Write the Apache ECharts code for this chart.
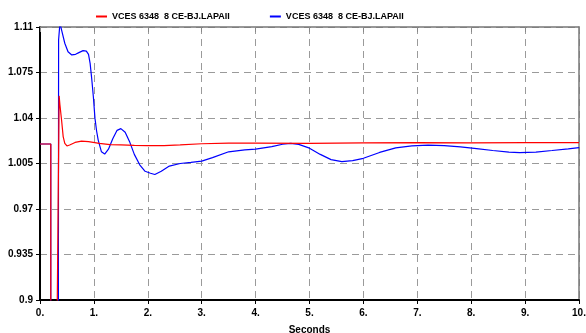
<!DOCTYPE html>
<html>
<head>
<meta charset="utf-8">
<script src="https://cdn.jsdelivr.net/npm/echarts@6/dist/echarts.min.js"></script>
<style>
  html, body { margin: 0; padding: 0; background: #fff; }
  #chart { width: 586px; height: 333px; }
</style>
</head>
<body>
<div id="chart"></div>
<script>
// Bus voltage (p.u.) against time (s) for two runs
const seriesNames = ['VCES 6348  8 CE-BJ.LAPAII', 'VCES 6348  8 CE-BJ.LAPAII'];

const redT = [0, 0.2, 0.2, 0.31, 0.355, 0.37, 0.4, 0.43, 0.46, 0.5, 0.55, 0.65, 0.77, 0.9, 1.1, 1.3, 1.5, 1.75, 2.0, 2.3, 2.6, 3.0, 3.5, 4.0, 5.0, 6.0, 7.0, 8.0, 9.0, 10.0];
const redV = [1.02, 1.02, 0.85, 0.85, 1.057, 1.05, 1.0385, 1.0257, 1.0205, 1.0185, 1.0192, 1.0212, 1.0222, 1.0218, 1.0205, 1.0195, 1.0193, 1.019, 1.0188, 1.0188, 1.0193, 1.0202, 1.0206, 1.0207, 1.0205, 1.0208, 1.021, 1.0208, 1.021, 1.021];

const blueT = [0, 0.2, 0.2, 0.34, 0.345, 0.37, 0.41, 0.46, 0.52, 0.59, 0.66, 0.73, 0.8, 0.86, 0.9, 0.93, 0.96, 0.99, 1.02, 1.05, 1.08, 1.14, 1.2, 1.27, 1.35, 1.43, 1.5, 1.58, 1.66, 1.75, 1.85, 1.95, 2.05, 2.13, 2.25, 2.4, 2.6, 2.8, 3.0, 3.2, 3.5, 3.8, 4.0, 4.3, 4.5, 4.65, 4.8, 5.0, 5.2, 5.4, 5.6, 5.8, 6.0, 6.3, 6.6, 6.9, 7.2, 7.5, 7.8, 8.1, 8.4, 8.7, 8.9, 9.2, 9.5, 9.8, 10];
const blueV = [1.02, 1.02, 0.85, 0.85, 1.10, 1.113, 1.106, 1.0975, 1.091, 1.0885, 1.089, 1.0905, 1.0918, 1.0915, 1.089, 1.082, 1.07, 1.0564, 1.0397, 1.03, 1.023, 1.014, 1.0123, 1.016, 1.024, 1.0305, 1.0318, 1.029, 1.022, 1.012, 1.004, 0.999, 0.9975, 0.9965, 0.999, 1.003, 1.005, 1.0058, 1.0068, 1.0095, 1.014, 1.0155, 1.016, 1.018, 1.0198, 1.0205, 1.0197, 1.0168, 1.012, 1.008, 1.0065, 1.0072, 1.009, 1.0135, 1.017, 1.0185, 1.0192, 1.0188, 1.0178, 1.0165, 1.015, 1.0137, 1.0133, 1.0138, 1.015, 1.0163, 1.0172];

const yMin = 0.9, yMax = 1.11, yStep = 0.035;
const xMin = 0, xMax = 10, xStep = 1;
const xTitle = 'Seconds';

const pairs = (t, v) => t.map((x, i) => [x, v[i]]);
const FONT = '"Liberation Sans", Arial, sans-serif';

const chart = echarts.init(document.getElementById('chart'), null, { renderer: 'canvas' });
chart.setOption({
  animation: false,
  backgroundColor: '#ffffff',
  textStyle: { fontFamily: FONT },
  legend: {
    left: 91,
    top: 7,
    itemGap: 40,
    itemWidth: 11,
    itemHeight: 2,
    icon: 'rect',
    textStyle: { fontFamily: FONT, fontSize: 9, fontWeight: 'bold', color: '#000' },
    data: [
      { name: 'red', itemStyle: { color: '#ff0000' } },
      { name: 'blue', itemStyle: { color: '#0000ff' } }
    ],
    formatter: n => n === 'red' ? seriesNames[0] : seriesNames[1]
  },
  grid: { left: 40, right: 7, top: 27, bottom: 33, containLabel: false, outerBoundsMode: 'none' },
  xAxis: [
    {
      type: 'value', position: 'bottom', min: xMin, max: xMax, interval: xStep,
      name: xTitle, nameLocation: 'middle', nameGap: 25,
      nameTextStyle: { fontFamily: FONT, fontSize: 10, fontWeight: 'bold', color: '#000' },
      axisLine: { show: true, onZero: false, lineStyle: { color: '#000', width: 2 } },
      axisTick: { show: true, inside: false, length: 4, lineStyle: { color: '#000', width: 1 } },
      axisLabel: { margin: 8, fontFamily: FONT, fontSize: 10, fontWeight: 'bold', color: '#000',
        formatter: v => v + '.' },
      splitLine: { show: true, lineStyle: { color: '#9a9a9a', width: 1, type: [7, 5] } }
    },
    {
      type: 'value', position: 'top', min: xMin, max: xMax, interval: xStep,
      axisLine: { show: true, onZero: false, lineStyle: { color: '#777', width: 1.5 } },
      axisTick: { show: true, inside: true, length: 5, lineStyle: { color: '#888', width: 1 } },
      axisLabel: { show: false },
      splitLine: { show: false }
    }
  ],
  yAxis: [
    {
      type: 'value', position: 'left', min: yMin, max: yMax, interval: yStep,
      axisLine: { show: true, onZero: false, lineStyle: { color: '#000', width: 2 } },
      axisTick: { show: true, inside: false, length: 4, lineStyle: { color: '#000', width: 1 } },
      axisLabel: { margin: 7, fontFamily: FONT, fontSize: 10, fontWeight: 'bold', color: '#000',
        formatter: v => String(parseFloat(v.toFixed(3))) },
      splitLine: { show: true, lineStyle: { color: '#9a9a9a', width: 1, type: [7, 5] } }
    },
    {
      type: 'value', position: 'right', min: yMin, max: yMax, interval: yStep,
      axisLine: { show: true, onZero: false, lineStyle: { color: '#777', width: 1.5 } },
      axisTick: { show: false },
      axisLabel: { show: false },
      splitLine: { show: false }
    }
  ],
  series: [
    {
      name: 'blue', type: 'line', xAxisIndex: 0, yAxisIndex: 0,
      data: pairs(blueT, blueV), showSymbol: false, symbol: 'none', smooth: false, clip: true,
      z: 2, lineStyle: { color: '#0000ff', width: 1.2 }, itemStyle: { color: '#0000ff' }
    },
    {
      name: 'red', type: 'line', xAxisIndex: 0, yAxisIndex: 0,
      data: pairs(redT, redV), showSymbol: false, symbol: 'none', smooth: false, clip: true,
      z: 3, lineStyle: { color: '#ff0000', width: 1.2 }, itemStyle: { color: '#ff0000' }
    }
  ]
});
</script>
</body>
</html>
